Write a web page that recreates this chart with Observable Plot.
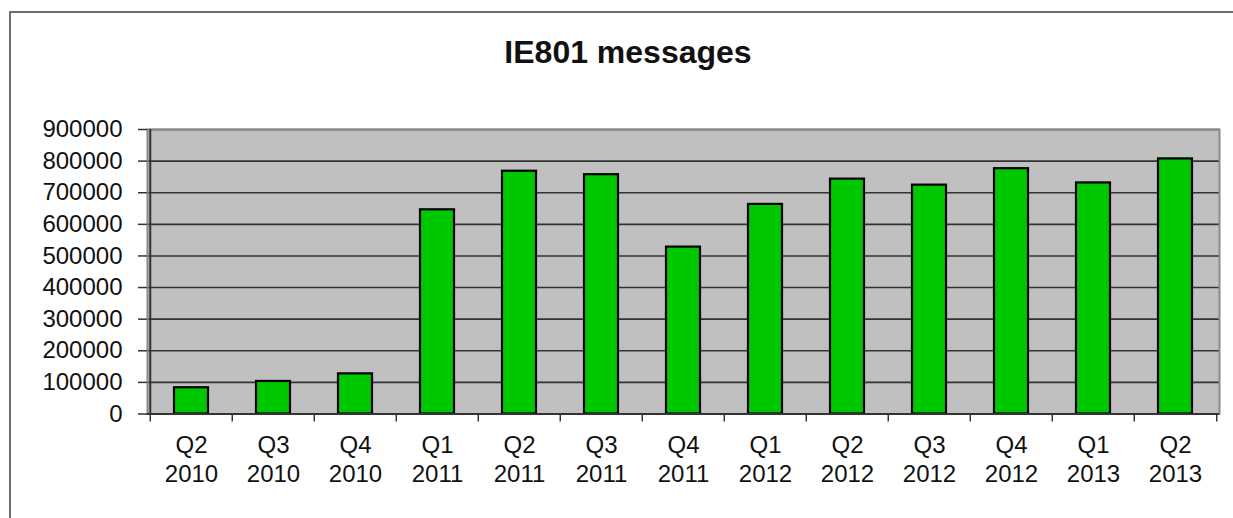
<!DOCTYPE html>
<html><head><meta charset="utf-8">
<script src="https://cdn.jsdelivr.net/npm/d3@7"></script>
<script src="https://cdn.jsdelivr.net/npm/@observablehq/plot@0.6"></script>
<style>
body{margin:0;background:#fff;font-family:"Liberation Sans",Arial,sans-serif;}
#wrap{position:relative;width:1233px;height:518px;overflow:hidden;background:#fff;}
#border{position:absolute;left:9px;top:11px;width:1300px;height:600px;border-top:2px solid #6e6e6e;border-left:2px solid #6e6e6e;}
#title{position:absolute;left:0;width:1256px;top:30px;text-align:center;font-weight:bold;font-size:32px;color:#111;line-height:44px;}
#chart{position:absolute;left:0;top:90px;}
</style></head>
<body><div id="wrap"><div id="border"></div><div id="title">IE801 messages</div><div id="chart"></div></div>
<script>
const quarters = ["Q2","Q3","Q4","Q1","Q2","Q3","Q4","Q1","Q2","Q3","Q4","Q1","Q2"];
const years = ["2010","2010","2010","2011","2011","2011","2011","2012","2012","2012","2012","2013","2013"];
const messages = [83000,103000,127000,646000,768000,757000,528000,663000,743000,724000,776000,731000,807000];
const yTicks = [0,100000,200000,300000,400000,500000,600000,700000,800000,900000];

const cats = quarters.map((q, i) => q + "\n" + years[i]);
const data = cats.map((c, i) => ({cat: c, value: messages[i]}));

const W = 1233, H = 428, mL = 147, mR = 14, mT = 39, mB = 104.5;
const step = (W - mL - mR) / cats.length;
const font = '"Liberation Sans", Arial, sans-serif';

const chart = Plot.plot({
  width: W, height: H,
  marginLeft: mL, marginRight: mR, marginTop: mT, marginBottom: mB,
  style: {fontFamily: font, color: "#111", background: "transparent", overflow: "visible"},
  x: {domain: cats, paddingInner: 0.58, paddingOuter: 0.29, label: null},
  y: {domain: [0, 900000], label: null},
  marks: [
    Plot.frame({fill: "#c0c0c0", stroke: null}),
    Plot.gridY(yTicks, {stroke: "#333", strokeOpacity: 1, strokeWidth: 1.6}),
    Plot.barY(data, {x: "cat", y: "value", fill: "#00c800", stroke: "#000", strokeWidth: 2.2}),
    Plot.frame({stroke: "#8a8a8a", strokeWidth: 2, fill: null}),
    Plot.ruleY([0], {stroke: "#333", strokeWidth: 2}),
    Plot.ruleX([0], {x: () => cats[0], dx: -step / 2, stroke: "#333", strokeWidth: 2}),
    Plot.ruleX(cats, {x: d => d, dx: -step / 2, y1: 0, y2: 0, insetBottom: -8, stroke: "#333", strokeWidth: 1.5}),
    Plot.ruleX([cats[cats.length - 1]], {x: d => d, dx: step / 2, y1: 0, y2: 0, insetBottom: -8, stroke: "#333", strokeWidth: 1.5}),
    Plot.axisY({ticks: yTicks, tickSize: 9, tickPadding: 16, fontSize: 24, tickFormat: d => String(d), stroke: "#333", strokeWidth: 1.5, label: null}),
    Plot.axisX({tickSize: 0, tickPadding: 18, fontSize: 24, lineHeight: 1.23, label: null})
  ]
});
document.getElementById("chart").appendChild(chart);
</script>
</body></html>
